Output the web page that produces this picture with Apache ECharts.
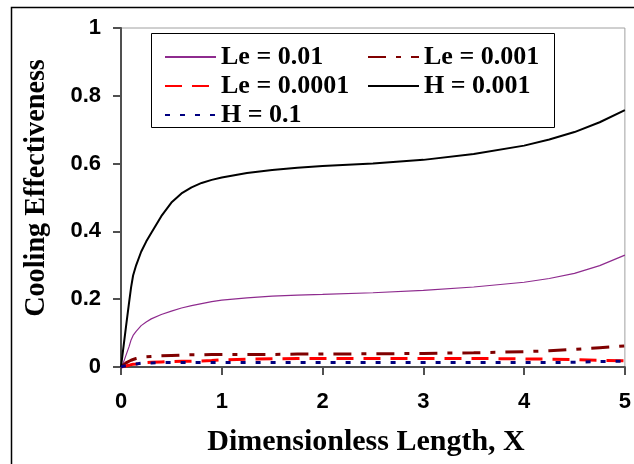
<!DOCTYPE html>
<html>
<head>
<meta charset="utf-8">
<script src="https://cdn.jsdelivr.net/npm/echarts@6/dist/echarts.min.js"></script>
<style>
html,body{margin:0;padding:0;background:#fff;}
#chart{width:634px;height:464px;}
</style>
</head>
<body>
<div id="chart"></div>
<script>
// Dimensionless length X
var xVals   = [0, 0.02, 0.05, 0.08, 0.1, 0.12, 0.15, 0.2, 0.25, 0.3, 0.4, 0.5, 0.6, 0.7, 0.8, 0.9, 1, 1.25, 1.5, 1.75, 2, 2.5, 3, 3.5, 4, 4.25, 4.5, 4.75, 5];
// Cooling effectiveness
var le001   = [0, 0.01, 0.035, 0.06, 0.08, 0.093, 0.105, 0.122, 0.133, 0.142, 0.155, 0.165, 0.174, 0.181, 0.187, 0.193, 0.197, 0.204, 0.209, 0.212, 0.214, 0.219, 0.226, 0.236, 0.25, 0.261, 0.276, 0.299, 0.33];
var le0001  = [0, 0.005, 0.012, 0.017, 0.02, 0.022, 0.025, 0.028, 0.03, 0.031, 0.033, 0.034, 0.035, 0.036, 0.036, 0.037, 0.037, 0.037, 0.037, 0.038, 0.038, 0.039, 0.04, 0.042, 0.045, 0.048, 0.052, 0.057, 0.062];
var le00001 = [0, 0.001, 0.003, 0.005, 0.007, 0.008, 0.009, 0.011, 0.013, 0.014, 0.015, 0.016, 0.017, 0.017, 0.018, 0.019, 0.021, 0.023, 0.024, 0.025, 0.025, 0.025, 0.025, 0.025, 0.024, 0.023, 0.022, 0.02, 0.018];
var h0001   = [0, 0.048, 0.12, 0.19, 0.235, 0.27, 0.3, 0.34, 0.37, 0.395, 0.445, 0.485, 0.512, 0.53, 0.543, 0.552, 0.559, 0.572, 0.581, 0.588, 0.593, 0.6, 0.611, 0.628, 0.653, 0.671, 0.693, 0.722, 0.758];
var h01     = [0, 0.002, 0.004, 0.006, 0.007, 0.008, 0.009, 0.011, 0.012, 0.012, 0.013, 0.013, 0.013, 0.013, 0.013, 0.013, 0.013, 0.013, 0.013, 0.013, 0.013, 0.013, 0.013, 0.013, 0.013, 0.013, 0.014, 0.016, 0.017];
var yTicks = ['0', '0.2', '0.4', '0.6', '0.8', '1'];
var xTicks = ['0', '1', '2', '3', '4', '5'];

function pairs(ys) { return xVals.map(function (x, i) { return [x, ys[i]]; }); }

var serifBold = 'bold 30px "Liberation Serif", "Times New Roman", serif';
var legendText = {fontFamily: '"Liberation Serif", "Times New Roman", serif', fontWeight: 'bold', fontSize: 26, color: '#000'};
var chart = echarts.init(document.getElementById('chart'), null, {renderer: 'canvas'});
chart.setOption({
  animation: false,
  backgroundColor: '#fff',
  grid: {left: 121, right: 1, top: 28, bottom: 97, show: true, borderColor: '#a0a0a0', borderWidth: 1, backgroundColor: 'transparent'},
  xAxis: {
    type: 'value', min: 0, max: 5, interval: 1,
    axisLine: {show: true, onZero: false, lineStyle: {color: '#505050', width: 2}},
    axisTick: {show: true, inside: false, length: 8, lineStyle: {color: '#505050', width: 2}},
    splitLine: {show: false},
    axisLabel: {margin: 24, color: '#000', fontFamily: '"Liberation Sans", Arial, sans-serif', fontWeight: 'bold', fontSize: 22,
      formatter: function (v) { return xTicks[Math.round(v)]; }}
  },
  yAxis: {
    type: 'value', min: 0, max: 1, interval: 0.2,
    axisLine: {show: true, onZero: false, lineStyle: {color: '#505050', width: 2}},
    axisTick: {show: true, inside: false, length: 8, lineStyle: {color: '#505050', width: 2}},
    splitLine: {show: false},
    axisLabel: {margin: 20, color: '#000', fontFamily: '"Liberation Sans", Arial, sans-serif', fontWeight: 'bold', fontSize: 22,
      formatter: function (v) { return yTicks[Math.round(v * 5)]; }}
  },
  legend: [
    {
      orient: 'vertical', left: 159, top: 39, itemWidth: 51, itemHeight: 26, itemGap: 3,
      data: ['Le = 0.01', 'Le = 0.0001', 'H = 0.1'],
      itemStyle: {opacity: 0},
      textStyle: legendText, z: 5
    },
    {
      orient: 'vertical', left: 362, top: 39, itemWidth: 51, itemHeight: 26, itemGap: 3,
      data: ['Le = 0.001', 'H = 0.001'],
      itemStyle: {opacity: 0},
      textStyle: legendText, z: 5
    }
  ],
  graphic: [
    {type: 'rect', z: 0, silent: true, shape: {x: 11.5, y: 7.5, width: 700, height: 500}, style: {fill: 'none', stroke: '#000', lineWidth: 1.5}},
    {type: 'rect', z: 3, silent: true, shape: {x: 151.5, y: 33.5, width: 403, height: 94}, style: {fill: '#fff', stroke: '#000', lineWidth: 1}},
    {type: 'text', z: 5, silent: true, x: 366, y: 442, style: {text: 'Dimensionless Length, X', font: serifBold, fill: '#000', align: 'center', verticalAlign: 'middle'}},
    {type: 'text', z: 5, silent: true, x: 36, y: 188, rotation: Math.PI / 2, scaleX: 0.94, style: {text: 'Cooling Effectiveness', font: serifBold, fill: '#000', align: 'center', verticalAlign: 'middle'}}
  ],
  series: [
    {name: 'Le = 0.01', type: 'line', data: pairs(le001), symbol: 'none', lineStyle: {color: '#8e2b8e', width: 1.2}, itemStyle: {color: '#8e2b8e'}},
    {name: 'Le = 0.001', type: 'line', data: pairs(le0001), symbol: 'none', lineStyle: {color: '#800000', width: 3, type: [18, 10, 5, 10]}, itemStyle: {color: '#800000'}},
    {name: 'Le = 0.0001', type: 'line', data: pairs(le00001), symbol: 'none', lineStyle: {color: '#ff0000', width: 3, type: [17, 10]}, itemStyle: {color: '#ff0000'}},
    {name: 'H = 0.001', type: 'line', data: pairs(h0001), symbol: 'none', lineStyle: {color: '#000', width: 2}, itemStyle: {color: '#000'}},
    {name: 'H = 0.1', type: 'line', data: pairs(h01), symbol: 'none', lineStyle: {color: '#000080', width: 3, type: [5, 10]}, itemStyle: {color: '#000080'}}
  ]
});
</script>
</body>
</html>
